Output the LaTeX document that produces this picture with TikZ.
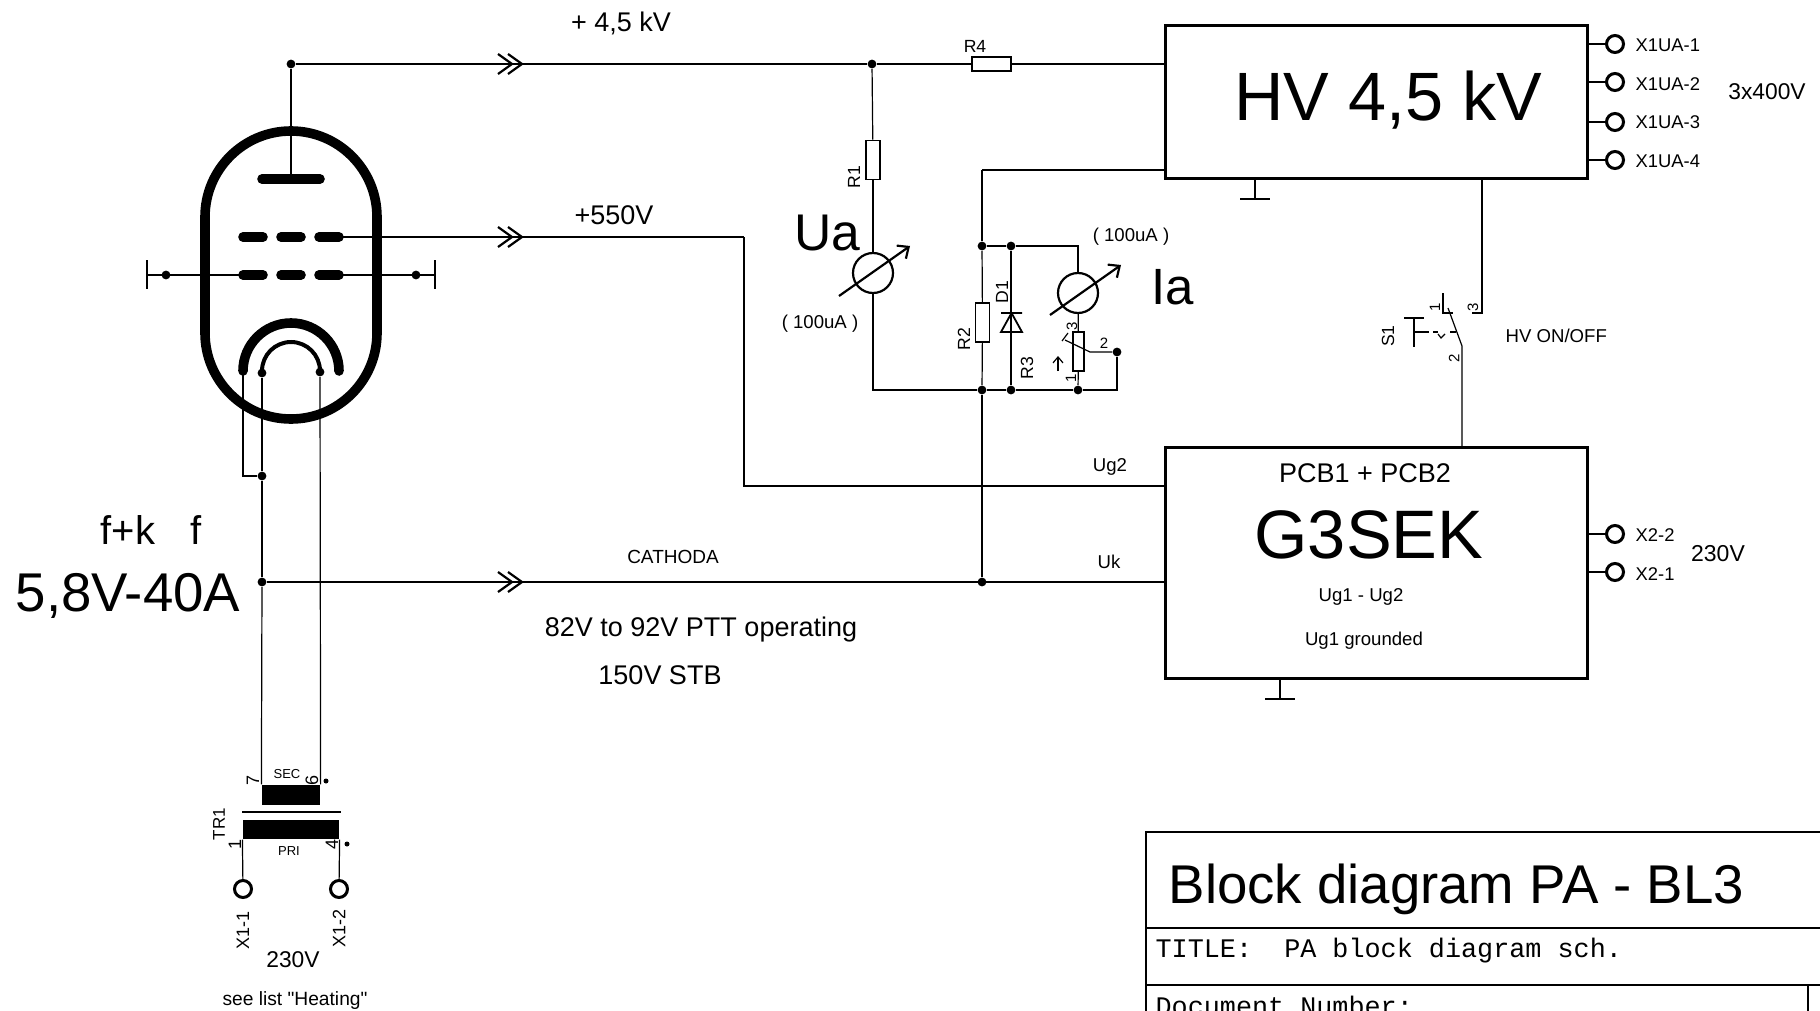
\documentclass[tikz,border=0pt]{standalone}
\usepackage{fontspec}
\setmainfont[Ligatures=TeXOff]{Liberation Sans}
\setmonofont{Liberation Mono}
\usetikzlibrary{arrows.meta}
\newcommand\connect[2]{\draw (#1) -- (#2);}
\newcommand\bend[2]{\draw (#1) |- (#2);}
\newcommand\junction[2]{\node[junction] (#1) at (#2) {};}
\newcommand\terminal[4]{\node[terminal] (#1) at (#2) {}; \node[txt=9.2,anchor=west] (#1label) at (1635,#3) {#4};}
\newcommand\chevron[1]{\draw[chevron] (498,#1-10) -- (512,#1) -- (498,#1+10) (508,#1-10) -- (522,#1) -- (508,#1+10);}
\newcommand\earth[2]{\coordinate (#1) at (#2,199); \draw[earth] (#1)+(-15,0) -- +(15,0);}
\begin{document}
\begin{tikzpicture}[x=0.5pt,y=-0.5pt,line width=0.6pt]
\tikzstyle{txt}=[inner sep=0pt,font=\fontsize{#1}{#1}\selectfont]
\tikzstyle{junction}=[circle,fill=black,inner sep=0pt,minimum size=4.4pt]
\tikzstyle{terminal}=[draw,circle,line width=1.5pt,fill=white,inner sep=0pt,minimum size=8.5pt]
\tikzstyle{box}=[draw,line width=1.5pt,inner sep=0pt,minimum width=211pt]
\tikzstyle{reshoriz}=[draw,line width=0.9pt,inner sep=0pt,minimum width=19.5pt,minimum height=7pt]
\tikzstyle{resvert}=[draw,line width=0.9pt,inner sep=0pt,minimum width=7pt,minimum height=19.5pt]
\tikzstyle{meter}=[draw,circle,line width=1.1pt,inner sep=0pt,minimum size=20pt]
\tikzstyle{needle}=[line width=1.1pt,-{Straight Barb[length=4.5pt,width=8pt]}]
\tikzstyle{winding}=[fill=black,inner sep=0pt]
\tikzstyle{chevron}=[line width=1.1pt]
\tikzstyle{earth}=[line width=1.1pt]
\tikzstyle{tube}=[line width=4.8pt,line cap=round]
\tikzstyle{heater}=[line width=2pt]
\useasboundingbox (0,0) rectangle (1820,1011);
\clip (0,0) rectangle (1820,1011);

\draw[tube] (205,217) arc (180:360:86) -- (377,333) arc (0:180:86) -- cycle;
\draw[tube] (262,179) -- (320,179);
\draw[tube] (243,237) -- (263,237) (281,237) -- (301,237) (319,237) -- (339,237);
\draw[tube] (243,275) -- (263,275) (281,275) -- (301,275) (319,275) -- (339,275);
\draw[tube] (243,371) arc (180:360:48);
\draw[heater] (262,371) arc (180:360:29);

\junction{anode}{291,64}
\junction{gridL}{166,275}
\junction{gridR}{416,275}
\junction{filL}{262,373}
\junction{filR}{320,372}
\junction{filK}{262,476}
\junction{cath}{262,582}
\junction{nodeA}{872,64}
\junction{nodeB}{982,246}
\junction{nodeC}{1011,246}
\junction{nodeD}{982,390}
\junction{nodeE}{1011,390}
\junction{nodeF}{1078,390}
\junction{nodeG}{1117,352}
\junction{nodeK}{982,582}

\coordinate (plate) at (291,179);
\coordinate (screen) at (339,237);
\coordinate (ctlL) at (243,275);
\coordinate (ctlR) at (339,275);
\coordinate (endL) at (147,275);
\coordinate (endR) at (435,275);
\coordinate (katode) at (243,373);
\coordinate (screenbend) at (744,237);
\coordinate (ug2in) at (1165,486);
\coordinate (ukin) at (1165,582);
\coordinate (hvin) at (1165,170);
\coordinate (hvbend) at (982,170);

\node[box,minimum height=76.5pt] (HV) at (1376,102) {};
\node[box,minimum height=115.5pt] (G3) at (1376,562.5) {};
\node[reshoriz] (R4) at (991.5,64) {};
\node[resvert] (R1) at (873,160) {};
\node[resvert] (R2) at (982.5,322.5) {};
\node[resvert,minimum width=5.8pt] (R3) at (1078.5,351.5) {};
\node[meter] (mUa) at (873,273) {};
\node[meter] (mIa) at (1078,293) {};
\node[winding,minimum width=29pt,minimum height=10pt] (sec) at (291,795) {};
\node[winding,minimum width=48pt,minimum height=9.5pt] (pri) at (291,829.5) {};
\node[terminal] (X11) at (243,889) {};
\node[terminal] (X12) at (339,889) {};

\connect{anode}{plate}
\connect{anode}{nodeA}
\connect{nodeA}{R4}
\draw (R4) -- (R4 -| HV.west);
\connect{nodeA}{R1}
\connect{R1}{mUa}
\bend{mUa}{nodeD}
\connect{hvin}{hvbend}
\connect{hvbend}{nodeB}
\connect{nodeB}{nodeC}
\connect{nodeB}{R2}
\connect{R2}{nodeD}
\connect{nodeD}{nodeE}
\connect{nodeE}{nodeF}
\connect{nodeC}{nodeE}
\draw (nodeC) -| (mIa);
\connect{mIa}{R3}
\connect{R3}{nodeF}
\draw (nodeF) -| (nodeG);
\connect{nodeD}{nodeK}
\connect{screen}{screenbend}
\bend{screenbend}{ug2in}
\connect{cath}{ukin}
\connect{endL}{ctlL}
\connect{ctlR}{endR}
\bend{katode}{filK}
\connect{filL}{filK}
\connect{filK}{cath}
\draw (cath) -- (sec.north west);
\draw (filR) -- (sec.north east);
\draw (pri.south west) -- (X11);
\draw (pri.south east) -- (X12);

\draw[earth] (147,260) -- (147,289);
\draw[earth] (435,260) -- (435,289);
\chevron{64}
\chevron{237}
\chevron{582}
\draw[line width=1pt] (242,812) -- (341,812);
\draw[needle] (839,296) -- (910,246);
\draw[needle] (1050,315) -- (1121,265);
\draw[fill=none,line width=0.9pt] (1001,313) -- (1022,313) (1001,332) -- (1022,332) -- (1011.5,313) -- cycle;
\draw (1065,340) -- (1090,352) -- (nodeG);
\draw (1062,341) -- (1068,333);
\draw[-{Straight Barb[length=3pt,width=5pt]}] (1058,371) -- (1058,356);

\earth{gndHV}{1255}
\draw (HV.south -| gndHV) -- (gndHV);
\coordinate (gndG3) at (1280,699);
\draw (G3.south -| gndG3) -- (gndG3);
\draw[earth] (1265,699) -- (1295,699);

\coordinate (swA) at (1482,179);
\coordinate (swB) at (1482,313);
\coordinate (swC) at (1472,313);
\coordinate (swD) at (1462,346);
\coordinate (swE) at (1448,308);
\coordinate (swF) at (1462,447);
\draw (swA) -- (swB) -- (swC);
\draw (swF) -- (swD) -- (swE);
\draw (1443,293) -- (1443,313) -- (1453,313);
\draw[earth] (1404,318) -- (1424,318);
\draw (1414,318) -- (1414,347);
\draw (1414,332) -- (1429,332) (1433,332) -- (1438,332) (1450,332) -- (1456,332);
\draw (1438,334) -- (1441,338) -- (1445,334);

\terminal{X1UA1}{1615,44}{45}{X1UA-1}
\terminal{X1UA2}{1615,82}{84}{X1UA-2}
\terminal{X1UA3}{1615,122}{122}{X1UA-3}
\terminal{X1UA4}{1615,160}{161}{X1UA-4}
\terminal{X22}{1615,534}{535}{X2-2}
\terminal{X21}{1615,572}{574}{X2-1}
\draw (X1UA1 -| HV.east) -- (X1UA1);
\draw (X1UA2 -| HV.east) -- (X1UA2);
\draw (X1UA3 -| HV.east) -- (X1UA3);
\draw (X1UA4 -| HV.east) -- (X1UA4);
\draw (X22 -| G3.east) -- (X22);
\draw (X21 -| G3.east) -- (X21);

\node[txt=13.5] (volt45) at (621,23) {+ 4,5 kV};
\node[txt=13.5] (volt550) at (614,215) {+550V};
\node[txt=9.5] (cathoda) at (673,557) {CATHODA};
\node[txt=13.5] (ptt) at (701,630) {82V to 92V PTT operating};
\node[txt=13.5] (stb) at (660,675) {150V STB};
\node[txt=20] (fk) at (128,530) {f+k};
\node[txt=20] (ff) at (196,530) {f};
\node[txt=27.3] (heat) at (128,596) {5,8V-40A};
\node[txt=34.2] (hvname) at (1388,100) {HV 4,5 kV};
\node[txt=34.3] (g3name) at (1369,535) {G3SEK};
\node[txt=13.5] (pcb) at (1365,473) {PCB1 + PCB2};
\node[txt=9.3] (ug12) at (1361,597) {Ug1 - Ug2};
\node[txt=9.3] (ug1g) at (1364,641) {Ug1 grounded};
\node[txt=9.3] (ug2) at (1110,467) {Ug2};
\node[txt=9.3] (uk) at (1109,562) {Uk};
\node[txt=11.4] (v400) at (1767,92) {3x400V};
\node[txt=11.5] (v230b) at (1718,554) {230V};
\node[txt=25.8] (ua) at (827,233) {Ua};
\node[txt=25.5] (ia) at (1173,287) {Ia};
\node[txt=9.3] (rangeU) at (820,324) {( 100uA )};
\node[txt=9.3] (rangeI) at (1131,237) {( 100uA )};
\node[txt=9.3,anchor=west] (hvonoff) at (1505,336) {HV ON/OFF};
\node[txt=8.8] (r4l) at (975,46) {R4};
\node[txt=8.8,rotate=90] (r1l) at (854,177) {R1};
\node[txt=8.8,rotate=90] (r2l) at (964,339) {R2};
\node[txt=8.8,rotate=90] (r3l) at (1027,368) {R3};
\node[txt=8.8,rotate=90] (d1l) at (1002,292) {D1};
\node[txt=8.8,rotate=90] (s1l) at (1388,336) {S1};
\node[txt=7.5,rotate=90] (p3) at (1072,326) {3};
\node[txt=7.5,rotate=90] (p1) at (1071,378) {1};
\node[txt=7.5] (p2) at (1104,343) {2};
\node[txt=7.5,rotate=90] (s11) at (1435,307) {1};
\node[txt=7.5,rotate=90] (s12) at (1454,358) {2};
\node[txt=7.5,rotate=90] (s13) at (1473,307) {3};
\node[txt=6.5] (secl) at (287,774) {SEC};
\node[txt=6.5] (pril) at (289,851) {PRI};
\node[txt=9,rotate=90] (t7) at (253,780) {7};
\node[txt=9,rotate=90] (t6) at (312,780) {6};
\node[txt=9,rotate=90] (t1) at (235,844) {1};
\node[txt=9,rotate=90] (t4) at (332,844) {4};
\node[junction,minimum size=2.5pt] (dotsec) at (326,781) {};
\node[junction,minimum size=2.5pt] (dotpri) at (347,844) {};
\node[txt=8.5,rotate=90] (tr1) at (219,824) {TR1};
\node[txt=9,rotate=90] (x11l) at (243,930) {X1-1};
\node[txt=9,rotate=90] (x12l) at (339,928) {X1-2};
\node[txt=11.4] (v230a) at (293,960) {230V};
\node[txt=9.6] (heating) at (295,1001) {see list "Heating"};

\draw (1146,1011) -- (1146,832) -- (1820,832);
\draw (1146,928) -- (1820,928);
\draw (1146,985) -- (1820,985);
\draw (1808,985) -- (1808,1011);
\node[txt=27.3,anchor=west] (blocktitle) at (1168,889) {Block diagram PA - BL3};
\node[txt=13.4,anchor=base west,font=\ttfamily\fontsize{13.4}{13.4}\selectfont] (titlerow) at (1155,957) {TITLE:\ \ PA block diagram sch.};
\node[txt=13.4,anchor=base west,font=\ttfamily\fontsize{13.4}{13.4}\selectfont] (docrow) at (1155,1015) {Document Number:};
\end{tikzpicture}
\end{document}
